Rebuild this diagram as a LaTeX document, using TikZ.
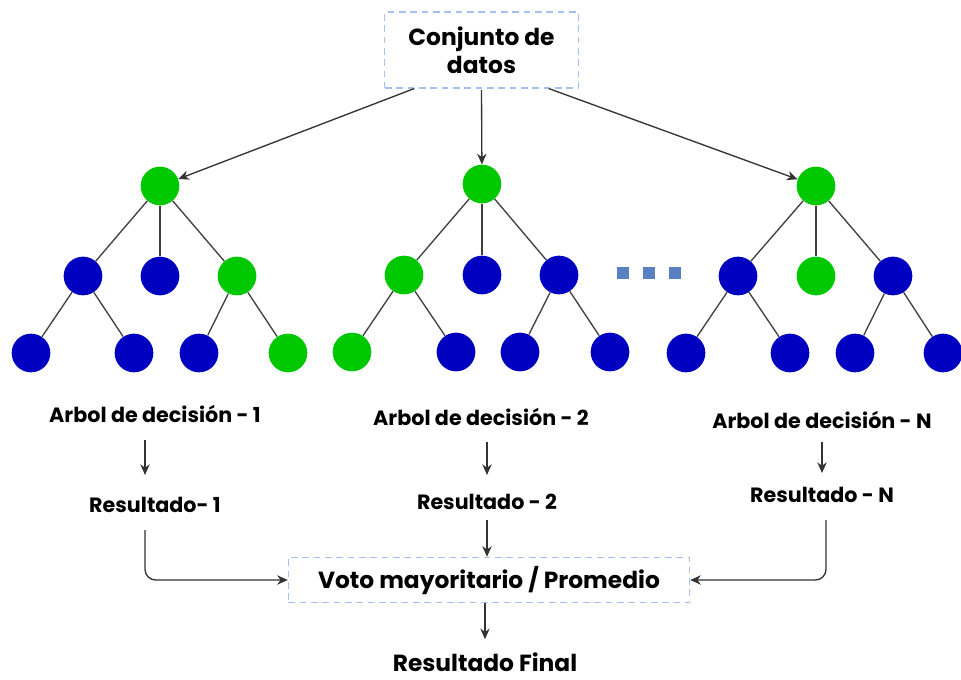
\documentclass[tikz,border=0pt]{standalone}
\usepackage{fontspec}
\setmainfont{Poppins}
\usetikzlibrary{arrows.meta}

\definecolor{hoja}{HTML}{00C800}
\definecolor{rama}{HTML}{0000C0}
\definecolor{marco}{HTML}{A4C2F0}
\definecolor{punto}{HTML}{5A80C4}

\tikzset{
  nodo/.style={circle, fill=#1, minimum size=29pt, inner sep=0pt},
  caja/.style={draw=marco, dash pattern=on 5pt off 3.5pt, line width=0.8pt, align=center, font=\bfseries\fontsize{17.5}{21}\selectfont},
  etiqueta/.style={font=\bfseries\fontsize{15.5}{18}\selectfont},
  flecha/.style={-{Stealth[length=8pt,width=7pt]}, line width=1pt, draw=black!80},
  arista/.style={line width=1pt, draw=black!75}
}

\begin{document}
\begin{tikzpicture}[x=0.75pt, y=-0.75pt]
				\useasboundingbox (0,0) rectangle (961,679);

				% conjunto de datos
				\node[caja, minimum width=145pt, minimum height=57pt] (datos) at (481.5,50) {Conjunto de\\datos};

				% arboles
				\foreach \n/\x/\y/\c in {
					a/160/186/hoja, a1/83/276/rama, a2/160/276/rama, a3/237/276/hoja,
					a11/31/353/rama, a12/134/353/rama, a31/199/353/rama, a32/288/353/hoja,
					b/482/184/hoja, b1/404/275/hoja, b2/482/275/rama, b3/559/275/rama,
					b11/352/352/hoja, b12/456/352/rama, b31/520/352/rama, b32/610/352/rama,
					c/816/186/hoja, c1/738/276/rama, c2/816/276/hoja, c3/893/276/rama,
					c11/686/353/rama, c12/790/353/rama, c31/855/353/rama, c32/943/353/rama} {
					\node[nodo=\c] (\n) at (\x,\y) {};
				}
				\foreach \p/\q in {a/a1, a/a2, a/a3, a1/a11, a1/a12, a3/a31, a3/a32,
					b/b1, b/b2, b/b3, b1/b11, b1/b12, b3/b31, b3/b32,
					c/c1, c/c2, c/c3, c1/c11, c1/c12, c3/c31, c3/c32} {
					\draw[arista] (\p) -- (\q);
				}

				% puntos suspensivos
				\foreach \x in {623,649,675} {
					\fill[punto] (\x-6,267) rectangle (\x+6,279);
				}

				\draw[flecha] (datos.south west) ++(30,0) -- (a);
				\draw[flecha] (datos) ++(0,40) -- (b);
				\draw[flecha] (datos.south east) ++(-30,0) -- (c);

				% etiquetas
				\node[etiqueta] (arbol1) at (155,414) {Arbol de decisión - 1};
				\node[etiqueta] (arbol2) at (481,417) {Arbol de decisión - 2};
				\node[etiqueta] (arbolN) at (822,420) {Arbol de decisión - N};

				\node[etiqueta] (res1) at (155,505) {Resultado- 1};
				\node[etiqueta] (res2) at (487,502) {Resultado - 2};
				\node[etiqueta] (resN) at (822,495) {Resultado - N};

				\draw[flecha] (145,440) -- (145,475);
				\draw[flecha] (487,442) -- (487,475);
				\draw[flecha] (822,442) -- (822,473);

				\node[caja, minimum width=301pt, minimum height=34pt] (voto) at (489,580) {Voto mayoritario / Promedio};
				\node[font=\bfseries\fontsize{17.5}{21}\selectfont, inner sep=1pt] (final) at (485,662) {Resultado Final};

				\draw[flecha] (res2) ++(0,18) -- (voto.north -| res2);
				\draw[flecha, rounded corners=8pt] (145,530) |- (voto.west);
				\draw[flecha, rounded corners=8pt] (826,520) |- (voto.east);
				\draw[flecha] (voto.south -| final) -- ++(0,36);
			\end{tikzpicture}
\end{document}
